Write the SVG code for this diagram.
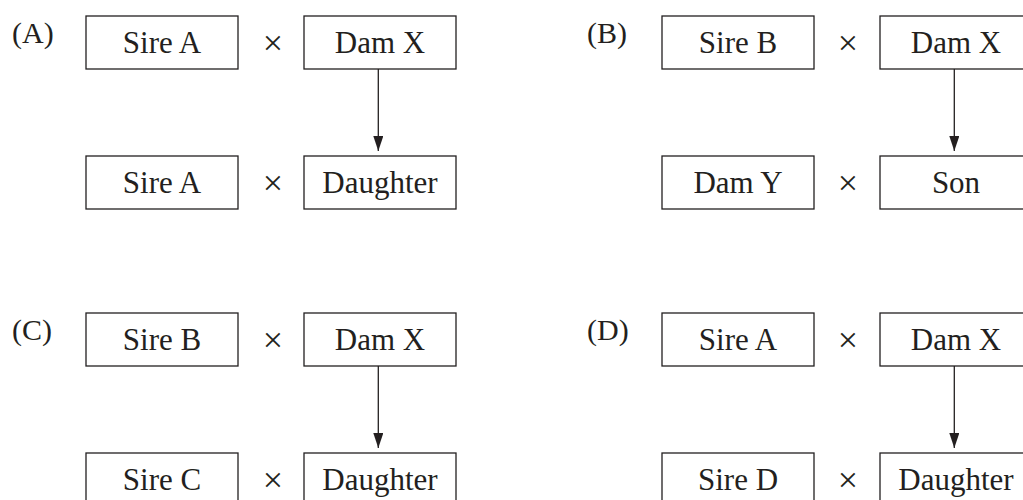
<svg xmlns="http://www.w3.org/2000/svg" width="1023" height="500" viewBox="0 0 1023 500">
<defs>
<style>
.box{fill:#fff;stroke:#231f20;stroke-width:1.3}
.t{font-family:"Liberation Serif","Times New Roman",serif;font-size:31px;fill:#231f20;text-anchor:middle}
.lbl{font-family:"Liberation Serif","Times New Roman",serif;font-size:30px;fill:#231f20}
.x{font-family:"Liberation Serif","Times New Roman",serif;font-size:36px;fill:#231f20;text-anchor:middle}
.edge{stroke:#231f20;stroke-width:1.3;fill:none}
</style>
<marker id="arr" viewBox="0 0 15 10" refX="15" refY="5" markerUnits="userSpaceOnUse" markerWidth="15" markerHeight="10" orient="auto">
<path d="M0,0 L15,5 L0,10 z" fill="#231f20"/>
</marker>
</defs>
<rect width="1023" height="500" fill="#fff"/>

<g id="labels">
<text class="lbl" x="12" y="43">(A)</text>
<text class="lbl" x="587" y="43">(B)</text>
<text class="lbl" x="12" y="340">(C)</text>
<text class="lbl" x="587" y="340">(D)</text>
</g>

<g id="crosses">
<text class="x" x="273" y="55">×</text>
<text class="x" x="273" y="195">×</text>
<text class="x" x="848" y="55">×</text>
<text class="x" x="848" y="195">×</text>
<text class="x" x="273" y="352">×</text>
<text class="x" x="273" y="492">×</text>
<text class="x" x="848" y="352">×</text>
<text class="x" x="848" y="492">×</text>
</g>

<g id="connectors">
<line class="edge" x1="378.3" y1="69" x2="378.3" y2="151" marker-end="url(#arr)"/>
<line class="edge" x1="954.3" y1="69" x2="954.3" y2="151" marker-end="url(#arr)"/>
<line class="edge" x1="378.3" y1="366" x2="378.3" y2="448" marker-end="url(#arr)"/>
<line class="edge" x1="954.3" y1="366" x2="954.3" y2="448" marker-end="url(#arr)"/>
</g>

<g id="A-sireA"><rect class="box" x="86" y="16" width="152" height="53"/><text class="t" x="162" y="52.5">Sire A</text></g>
<g id="A-damX"><rect class="box" x="304" y="16" width="152" height="53"/><text class="t" x="380" y="52.5">Dam X</text></g>
<g id="A-sireA2"><rect class="box" x="86" y="156" width="152" height="53"/><text class="t" x="162" y="192.5">Sire A</text></g>
<g id="A-daughter"><rect class="box" x="304" y="156" width="152" height="53"/><text class="t" x="380" y="192.5">Daughter</text></g>

<g id="B-sireB"><rect class="box" x="662" y="16" width="152" height="53"/><text class="t" x="738" y="52.5">Sire B</text></g>
<g id="B-damX"><rect class="box" x="880" y="16" width="152" height="53"/><text class="t" x="956" y="52.5">Dam X</text></g>
<g id="B-damY"><rect class="box" x="662" y="156" width="152" height="53"/><text class="t" x="738" y="192.5">Dam Y</text></g>
<g id="B-son"><rect class="box" x="880" y="156" width="152" height="53"/><text class="t" x="956" y="192.5">Son</text></g>

<g id="C-sireB"><rect class="box" x="86" y="313" width="152" height="53"/><text class="t" x="162" y="349.5">Sire B</text></g>
<g id="C-damX"><rect class="box" x="304" y="313" width="152" height="53"/><text class="t" x="380" y="349.5">Dam X</text></g>
<g id="C-sireC"><rect class="box" x="86" y="453" width="152" height="53"/><text class="t" x="162" y="489.5">Sire C</text></g>
<g id="C-daughter"><rect class="box" x="304" y="453" width="152" height="53"/><text class="t" x="380" y="489.5">Daughter</text></g>

<g id="D-sireA"><rect class="box" x="662" y="313" width="152" height="53"/><text class="t" x="738" y="349.5">Sire A</text></g>
<g id="D-damX"><rect class="box" x="880" y="313" width="152" height="53"/><text class="t" x="956" y="349.5">Dam X</text></g>
<g id="D-sireD"><rect class="box" x="662" y="453" width="152" height="53"/><text class="t" x="738" y="489.5">Sire D</text></g>
<g id="D-daughter"><rect class="box" x="880" y="453" width="152" height="53"/><text class="t" x="956" y="489.5">Daughter</text></g>
</svg>
